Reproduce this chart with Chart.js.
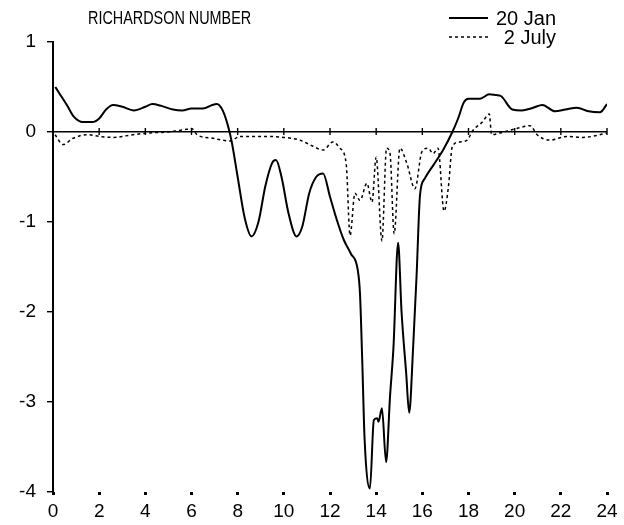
<!DOCTYPE html>
<html>
<head>
<meta charset="utf-8">
<script src="https://cdn.jsdelivr.net/npm/chart.js@4.4.1/dist/chart.umd.min.js"></script>
<style>
  html, body { margin: 0; padding: 0; background: #fff; }
  #wrap { position: relative; width: 624px; height: 525px; }
</style>
</head>
<body>
<div id="wrap"><canvas id="riChart" width="624" height="525"></canvas></div>
<script>
// Richardson number, two days
const chartTitle = 'RICHARDSON NUMBER';
const seriesLabels = ['20 Jan', '2 July'];

const hoursJan = [0.1, 0.3, 0.6, 0.9, 1.3, 1.7, 2.0, 2.3, 2.6, 3.0, 3.5, 4.0, 4.3, 4.7, 5.2, 5.6, 6.0, 6.5, 6.9, 7.1,
    7.35, 7.6, 7.75, 8.0, 8.3, 8.6, 8.9, 9.2, 9.5, 9.66, 9.9, 10.2, 10.55, 10.8, 11.1, 11.4, 11.7, 12.0, 12.3, 12.6,
    12.9, 13.2, 13.3, 13.4, 13.5, 13.73, 13.9, 14.05, 14.1, 14.25, 14.43, 14.6, 14.75, 14.95, 15.1, 15.3, 15.43, 15.6,
    15.75, 15.9, 16.1, 16.5, 16.9, 17.3, 17.55, 17.8, 18.0, 18.5, 18.9, 19.2, 19.4, 19.9, 20.3, 20.8, 21.2, 21.75,
    22.2, 22.7, 23.2, 23.7, 24.0];
const riJan = [0.50, 0.42, 0.30, 0.17, 0.11, 0.11, 0.15, 0.25, 0.30, 0.28, 0.24, 0.28, 0.31, 0.29, 0.25, 0.24, 0.26, 0.26, 0.30, 0.31,
    0.24, 0.05, -0.12, -0.50, -0.95, -1.16, -1.00, -0.60, -0.34, -0.31, -0.50, -0.90, -1.16, -1.05, -0.68, -0.50, -0.46, -0.72, -0.98, -1.20,
    -1.35, -1.53, -1.80, -2.57, -3.42, -3.96, -3.20, -3.18, -3.22, -3.07, -3.67, -2.94, -2.39, -1.23, -2.00, -2.68, -3.12, -2.40,
    -1.60, -0.70, -0.52, -0.36, -0.20, 0.00, 0.15, 0.33, 0.37, 0.37, 0.42, 0.41, 0.40, 0.25, 0.24, 0.27, 0.30, 0.23,
    0.25, 0.27, 0.23, 0.22, 0.31];

const hoursJuly = [0.09, 0.43, 0.87, 1.47, 2.04, 2.6, 3.47, 4.2, 4.94, 5.8, 6.0, 6.24, 6.93, 7.67, 8.1, 9.27, 10.0, 10.7,
    11.2, 11.7, 12.13, 12.43, 12.7, 12.87, 13.08, 13.3, 13.6, 13.82, 14.0, 14.25, 14.45, 14.6, 14.78, 15.03, 15.33,
    15.68, 15.98, 16.25, 16.47, 16.68, 16.94, 17.13, 17.3, 17.63, 17.94, 18.2, 18.6, 18.9, 19.0, 19.37, 20.1, 20.67,
    20.97, 21.53, 22.27, 22.96, 23.7, 24.0];
const riJuly = [-0.03, -0.14, -0.07, -0.03, -0.05, -0.06, -0.03, -0.01, 0.00, 0.03, 0.04, -0.03, -0.07, -0.10, -0.05, -0.05, -0.06, -0.09,
    -0.15, -0.20, -0.11, -0.18, -0.35, -1.15, -0.68, -0.76, -0.57, -0.78, -0.28, -1.21, -0.18, -0.24, -1.13, -0.18, -0.35,
    -0.63, -0.22, -0.18, -0.24, -0.18, -0.88, -0.61, -0.16, -0.11, -0.09, 0.02, 0.11, 0.20, -0.03, -0.01, 0.04, 0.07,
    -0.03, -0.09, -0.05, -0.06, -0.03, -0.01];

const xTicks = [0, 2, 4, 6, 8, 10, 12, 14, 16, 18, 20, 22, 24];
const yTicks = [1, 0, -1, -2, -3, -4];

const FONT = '"Liberation Sans", Arial, Helvetica, sans-serif';

const toPoints = (xs, ys) => xs.map((x, i) => ({ x: x, y: ys[i] }));

// zero line with its little hour ticks, plus title and legend
const decorPlugin = {
    id: 'decor',
    afterDatasetsDraw(chart) {
        const ctx = chart.ctx;
        const xs = chart.scales.x;
        const ys = chart.scales.y;
        const y0 = ys.getPixelForValue(0);
        ctx.save();
        ctx.strokeStyle = '#000';
        ctx.lineWidth = 1.4;
        xTicks.forEach(t => {
            if (t === 0) return;
            const px = xs.getPixelForValue(t);
            ctx.beginPath();
            ctx.moveTo(px, y0 - 4);
            ctx.lineTo(px, y0 + 3);
            ctx.stroke();
        });
        ctx.restore();
    },
    afterDraw(chart) {
        const ctx = chart.ctx;
        ctx.save();
        ctx.fillStyle = '#000';
        ctx.textBaseline = 'alphabetic';

        // title is set narrow in the original, squeeze it a bit
        ctx.save();
        ctx.font = '18px ' + FONT;
        ctx.translate(88, 24);
        ctx.scale(0.8, 1);
        ctx.textAlign = 'left';
        ctx.fillText(chartTitle, 0, 0);
        ctx.restore();

        ctx.font = '20px ' + FONT;
        const rows = [25, 44];
        chart.data.datasets.forEach((ds, i) => {
            const y = rows[i];
            ctx.strokeStyle = '#000';
            ctx.lineWidth = ds.borderWidth;
            ctx.setLineDash(ds.borderDash || []);
            ctx.beginPath();
            ctx.moveTo(449, y - 7);
            ctx.lineTo(488, y - 7);
            ctx.stroke();
            ctx.setLineDash([]);
            ctx.textAlign = 'right';
            ctx.fillText(ds.label, 556, y);
        });
        ctx.restore();
    }
};

new Chart(document.getElementById('riChart'), {
    type: 'line',
    data: {
        datasets: [
            {
                label: seriesLabels[0],
                data: toPoints(hoursJan, riJan),
                borderColor: '#000',
                borderWidth: 2,
                cubicInterpolationMode: 'monotone',
                pointRadius: 0,
                fill: false
            },
            {
                label: seriesLabels[1],
                data: toPoints(hoursJuly, riJuly),
                borderColor: '#000',
                borderWidth: 1.5,
                borderDash: [3, 3],
                cubicInterpolationMode: 'monotone',
                pointRadius: 0,
                fill: false
            }
        ]
    },
    options: {
        responsive: false,
        animation: false,
        layout: { padding: { top: 42, right: 17, bottom: 0, left: 0 } },
        plugins: {
            legend: { display: false },
            title: { display: false },
            tooltip: { enabled: false }
        },
        scales: {
            x: {
                type: 'linear',
                min: 0,
                max: 24,
                afterBuildTicks: axis => { axis.ticks = xTicks.map(v => ({ value: v })); },
                border: { display: false },
                grid: {
                    drawOnChartArea: false,
                    tickLength: 3,
                    tickWidth: 3,
                    tickColor: '#000'
                },
                ticks: {
                    color: '#000',
                    padding: 5,
                    maxRotation: 0,
                    font: { family: FONT, size: 19 }
                },
                afterFit: axis => { axis.height = 33; }
            },
            y: {
                type: 'linear',
                min: -4,
                max: 1,
                afterBuildTicks: axis => { axis.ticks = yTicks.map(v => ({ value: v })); },
                border: { display: true, color: '#000', width: 2 },
                grid: {
                    color: ctx => (ctx.tick && ctx.tick.value === 0 ? '#000' : 'rgba(0,0,0,0)'),
                    lineWidth: 1.4,
                    tickLength: 6,
                    tickColor: '#000',
                    tickWidth: 1.4
                },
                ticks: {
                    color: '#000',
                    padding: 11,
                    font: { family: FONT, size: 19 },
                    callback: v => String(v)
                },
                afterFit: axis => { axis.width = 53; }
            }
        }
    },
    plugins: [decorPlugin]
});
</script>
</body>
</html>
